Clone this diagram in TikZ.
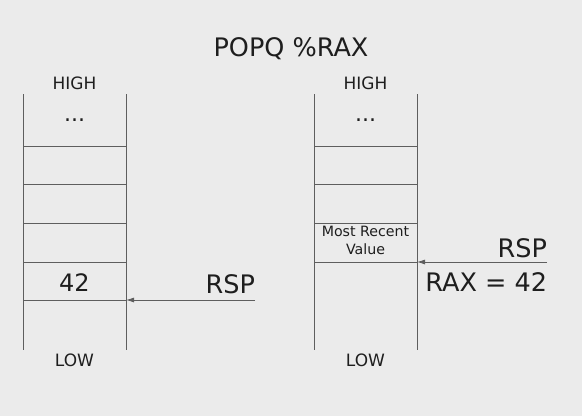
\documentclass[tikz,border=0pt]{standalone}
\usepackage{fontspec}
\setmainfont{DejaVu Sans}
\usepackage{tikz}
\usetikzlibrary{arrows.meta}
\definecolor{bg}{HTML}{EBEBEB}
\definecolor{ink}{HTML}{1E1E1E}
\definecolor{rule}{HTML}{5E5E5E}
\begin{document}
\begin{tikzpicture}[>={Latex[length=8pt,width=5pt]},x=1pt,y=-1pt,line join=bevel,
  txt/.style={inner sep=0pt,outer sep=0,anchor=base,text=ink},
  small/.style={txt,font=\fontsize{17}{17}\selectfont},
  big/.style={txt,font=\fontsize{25.5}{25.5}\selectfont},
  dots/.style={txt,font=\fontsize{22}{22}\selectfont},
  wall/.style={draw=rule,line width=0.8pt},
  ptr/.style={draw=rule,line width=0.8pt,->}]
\fill[bg] (0,0) rectangle (582,416);
\useasboundingbox (0,0) rectangle (582,416);
% title
\node[big] (title) at (291,56) {POPQ \%RAX};
% left stack
\draw[wall] (23,94) -- (23,350);
\draw[wall] (126,94) -- (126,350);
\foreach \y in {146,184,223,262,300}
  \draw[wall] (23,\y) -- (126,\y);
\node[small] (lhigh) at (74.5,89) {HIGH};
\node[dots] (ldots) at (74.5,121) {...};
\node[big,font=\fontsize{24}{24}\selectfont] (lval) at (74.5,291) {42};
\node[small] (llow) at (74.5,366) {LOW};
\coordinate (ltop) at (126,300);
\coordinate (lrsp) at (255,300);
\draw[ptr] (lrsp) -- (ltop);
\node[big,anchor=base east] (lname) at (255,293) {RSP};
% right stack
\draw[wall] (314,94) -- (314,350);
\draw[wall] (417,94) -- (417,350);
\foreach \y in {146,184,223,262}
  \draw[wall] (314,\y) -- (417,\y);
\node[small] (rhigh) at (365.5,89) {HIGH};
\node[dots] (rdots) at (365.5,121) {...};
\node[txt,font=\fontsize{14.2}{17.5}\selectfont,align=center,anchor=north] (rval) at (365.5,226.5) {Most Recent\\Value};
\node[small] (rlow) at (365.5,366) {LOW};
\coordinate (rtop) at (417,262);
\coordinate (rrsp) at (547,262);
\draw[ptr] (rrsp) -- (rtop);
\node[big,anchor=base east] (rname) at (547,257) {RSP};
\node[big,anchor=base east] (rax) at (547,291) {RAX = 42};
\end{tikzpicture}
\end{document}
